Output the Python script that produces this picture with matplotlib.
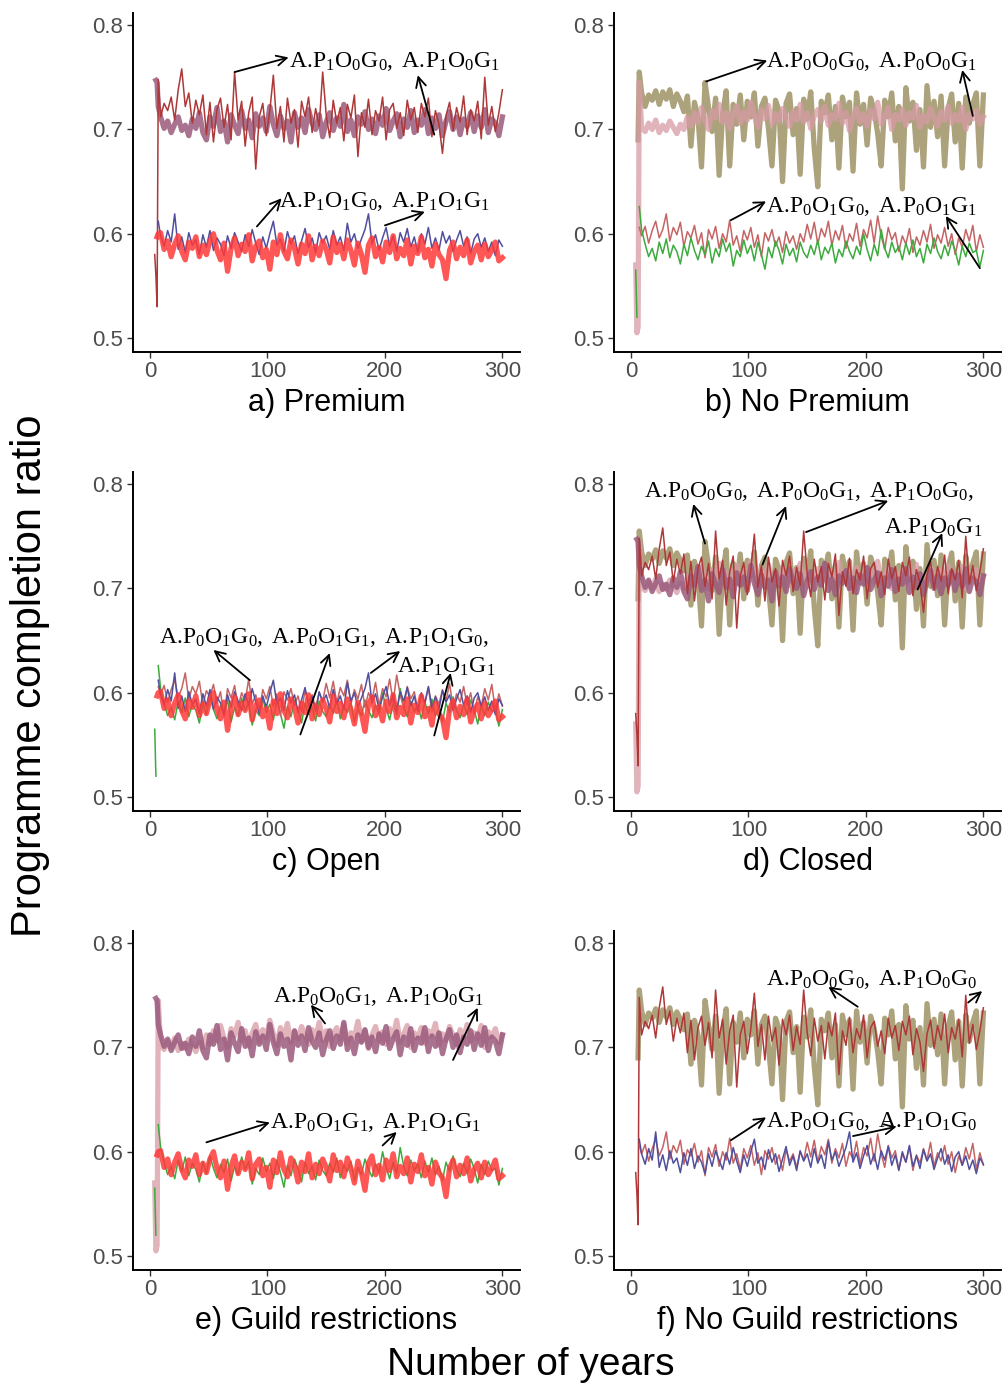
import numpy as np
import matplotlib
matplotlib.use('Agg')
import matplotlib.pyplot as plt

plt.rcParams['font.family'] = ['Liberation Sans', 'DejaVu Sans']
plt.rcParams['mathtext.fontset'] = 'custom'
plt.rcParams['mathtext.rm'] = 'Liberation Serif'
plt.rcParams['mathtext.it'] = 'Liberation Serif:italic'

nan = np.nan

# x grid (years), values in thousandths
years = [4, 5, 6, 7] + list(range(9, 301, 3))

p1o0g0 = [580, 560, 530, 748,
          712, 725, 718, 731, 709, 738, 758, 722, 735, 706,
          728, 714, 733, 695, 726, 688, 719, 730, 702, 724,
          690, 755, 709, 727, 684, 716, 731, 662, 712, 725,
          694, 718, 752, 701, 722, 688, 730, 706, 719, 683,
          727, 712, 731, 697, 720, 703, 755, 714, 692, 728,
          706, 721, 689, 724, 711, 733, 674, 716, 702, 729,
          695, 718, 708, 731, 690, 719, 725, 701, 716, 694,
          728, 709, 721, 697, 725, 712, 730, 693, 718, 705,
          677, 713, 726, 699, 721, 707, 732, 695, 719, 708,
          727, 691, 750, 704, 722, 698, 716, 738]

p1o0g1 = [nan, 747, 745, 722,
          712, 701, 708, 697, 705, 712, 699, 704, 694, 710,
          701, 716, 697, 690, 712, 703, 721, 698, 708, 688,
          714, 704, 696, 718, 701, 709, 692, 715, 703, 711,
          698, 722, 705, 694, 713, 701, 708, 688, 716, 702,
          711, 697, 719, 706, 700, 714, 693, 707, 716, 699,
          711, 703, 724, 698, 709, 694, 712, 705, 717, 700,
          710, 696, 713, 704, 720, 699, 708, 715, 693, 710,
          702, 718, 697, 709, 704, 719, 696, 711, 701, 714,
          694, 708, 717, 700, 712, 695, 710, 703, 716, 698,
          713, 702, 719, 697, 710, 706, 694, 712]

p1o1g0 = [nan, nan, nan, 612,
          598, 588, 603, 592, 619, 585, 597, 582, 601, 589,
          594, 580, 599, 587, 603, 584, 596, 590, 579, 598,
          586, 601, 592, 583, 599, 588, 604, 591, 580, 597,
          586, 600, 612, 589, 595, 583, 602, 590, 598, 581,
          593, 605, 587, 596, 582, 601, 591, 598, 585, 603,
          589, 597, 584, 610, 592, 600, 586, 595, 604, 619,
          590, 599, 584, 596, 606, 588, 598, 583, 601, 592,
          605, 587, 597, 582, 600, 590, 606, 586, 596, 584,
          602, 591, 598, 583, 594, 603, 588, 597, 581, 595,
          600, 587, 596, 583, 592, 579, 594, 588]

p1o1g1 = [nan, nan, 597, 600,
          601, 585, 593, 578, 590, 598, 583, 575, 592, 586,
          597, 578, 589, 580, 593, 600, 584, 575, 591, 564,
          586, 596, 579, 590, 583, 599, 574, 588, 593, 577,
          585, 566, 592, 580, 599, 583, 576, 594, 586, 571,
          590, 581, 598, 575, 588, 579, 593, 585, 572, 597,
          582, 590, 576, 594, 584, 570, 591, 580, 563, 589,
          596, 578, 587, 573, 592, 582, 598, 576, 586, 579,
          594, 571, 588, 581, 597, 577, 585, 569, 590, 580,
          575, 557, 584, 592, 576, 587, 579, 594, 572, 583,
          589, 575, 590, 578, 584, 592, 574, 577]

p0o0g0 = [nan, nan, 690, 755,
          735, 722, 733, 728, 737, 724, 736, 729, 738, 722,
          734, 727, 717, 732, 684, 726, 712, 664, 745, 721,
          698, 730, 656, 715, 737, 665, 724, 705, 733, 690,
          727, 712, 735, 684, 722, 730, 701, 665, 728, 718,
          650, 725, 734, 695, 720, 657, 729, 710, 736, 682,
          645, 727, 716, 733, 690, 722, 663, 731, 712, 726,
          660, 735, 705, 724, 685, 730, 718, 696, 665, 728,
          712, 735, 689, 722, 643, 740, 708, 726, 680, 719,
          664, 742, 702, 727, 693, 732, 665, 720, 734, 688,
          725, 663, 731, 706, 724, 735, 665, 733]

p0o0g1 = [570, 505, 510, 745,
          702, 698, 706, 700, 709, 697, 704, 699, 708, 702,
          696, 705, 700, 712, 703, 716, 706, 721, 709, 700,
          718, 711, 724, 707, 716, 701, 714, 722, 706, 717,
          709, 726, 713, 702, 719, 710, 723, 705, 715, 708,
          720, 712, 703, 717, 709, 724, 707, 716, 701, 713,
          719, 708, 722, 704, 714, 710, 725, 706, 716, 699,
          712, 720, 707, 715, 703, 718, 710, 726, 705, 713,
          721, 700, 714, 709, 719, 704, 716, 711, 723, 702,
          713, 707, 720, 711, 703, 717, 709, 722, 706, 714,
          708, 721, 700, 715, 710, 718, 705, 712]

p0o1g0 = [nan, nan, nan, 606,
          598, 607, 591, 603, 612, 596, 604, 619, 593, 606,
          599, 611, 588, 602, 596, 608, 590, 601, 577, 604,
          595, 607, 586, 600, 592, 613, 589, 598, 583, 603,
          594, 606, 587, 599, 578, 601, 593, 604, 588, 597,
          582, 602, 591, 598, 585, 600, 592, 609, 595, 611,
          590, 605, 597, 612, 589, 603, 594, 608, 586, 600,
          593, 610, 588, 604, 596, 613, 591, 617, 598, 585,
          606, 594, 601, 583, 598, 590, 605, 582, 597, 589,
          603, 592, 609, 586, 599, 591, 606, 588, 600, 580,
          596, 587, 604, 593, 608, 583, 599, 587]

p0o1g1 = [565, 520, nan, 626,
          604, 590, 578, 586, 574, 592, 581, 595, 577, 589,
          583, 571, 590, 579, 596, 584, 575, 588, 580, 593,
          572, 586, 578, 595, 583, 591, 569, 584, 578, 594,
          581, 589, 574, 592, 580, 566, 587, 577, 593, 584,
          571, 590, 579, 586, 573, 592, 582, 577, 589, 580,
          594, 575, 587, 581, 591, 572, 585, 578, 593, 583,
          576, 588, 580, 600, 585, 574, 590, 579, 604, 586,
          577, 592, 582, 588, 575, 591, 580, 594, 578, 586,
          572, 590, 581, 596, 583, 576, 589, 579, 593, 584,
          570, 588, 578, 591, 582, 584, 568, 584]

# colour, line width, alpha
styles = {
    'p0o0g0': ('#A89E76', 3.8, 0.95),
    'p0o0g1': ('#D79AA4', 3.8, 0.75),
    'p1o0g1': ('#9A5A7C', 3.8, 0.85),
    'p1o0g0': ('#AE3838', 1.1, 1.0),
    'p0o1g1': ('#3DAA3D', 1.1, 1.0),
    'p0o1g0': ('#C46464', 1.1, 1.0),
    'p1o1g0': ('#4F4F9E', 1.1, 1.0),
    'p1o1g1': ('#FF3838', 3.8, 0.85),
}
series = {'p1o0g0': p1o0g0, 'p1o0g1': p1o0g1, 'p1o1g0': p1o1g0, 'p1o1g1': p1o1g1,
          'p0o0g0': p0o0g0, 'p0o0g1': p0o0g1, 'p0o1g0': p0o1g0, 'p0o1g1': p0o1g1}


def lab(*names, tail=''):
    parts = [r'A.\!P_%sO_%sG_%s' % (n[1], n[3], n[5]) for n in names]
    return r'$\mathrm{' + r',\ '.join(parts) + tail + '}$'


# panel: title, series order, texts (x, y, string), arrows (tail, head)
panels = [
    ('a) Premium', ['p1o0g1', 'p1o0g0', 'p1o1g0', 'p1o1g1'],
     [(118, 0.765, lab('p1o0g0', 'p1o0g1')), (110, 0.631, lab('p1o1g0', 'p1o1g1'))],
     [((72, 0.755), (118, 0.769)), ((242, 0.695), (228, 0.752)),
      ((91, 0.607), (112, 0.634)), ((200, 0.608), (234, 0.621))]),
    ('b) No Premium', ['p0o0g0', 'p0o0g1', 'p0o1g0', 'p0o1g1'],
     [(115, 0.765, lab('p0o0g0', 'p0o0g1')), (115, 0.626, lab('p0o1g0', 'p0o1g1'))],
     [((64, 0.746), (116, 0.766)), ((291, 0.713), (282, 0.757)),
      ((85, 0.613), (115, 0.631)), ((297, 0.567), (268, 0.617))]),
    ('c) Open', ['p0o1g1', 'p0o1g0', 'p1o1g0', 'p1o1g1'],
     [(8, 0.653, lab('p0o1g0', 'p0o1g1', 'p1o1g0', tail=',')), (210, 0.625, lab('p1o1g1'))],
     [((85, 0.612), (54, 0.641)), ((128, 0.560), (153, 0.638)),
      ((188, 0.619), (213, 0.640)), ((242, 0.559), (256, 0.619))]),
    ('d) Closed', ['p0o0g0', 'p0o0g1', 'p1o0g1', 'p1o0g0'],
     [(11, 0.793, lab('p0o0g0', 'p0o0g1', 'p1o0g0', tail=',')), (215, 0.758, lab('p1o0g1'))],
     [((63, 0.743), (53, 0.781)), ((112, 0.723), (132, 0.779)),
      ((149, 0.754), (219, 0.784)), ((244, 0.699), (265, 0.753))]),
    ('e) Guild restrictions', ['p0o0g1', 'p1o0g1', 'p0o1g1', 'p1o1g1'],
     [(105, 0.749, lab('p0o0g1', 'p1o0g1')), (102, 0.628, lab('p0o1g1', 'p1o1g1'))],
     [((149, 0.723), (137, 0.741)), ((258, 0.688), (279, 0.738)),
      ((48, 0.609), (102, 0.628)), ((198, 0.606), (210, 0.619))]),
    ('f) No Guild restrictions', ['p0o0g0', 'p1o0g0', 'p0o1g0', 'p1o1g0'],
     [(115, 0.765, lab('p0o0g0', 'p1o0g0')), (115, 0.629, lab('p0o1g0', 'p1o1g0'))],
     [((193, 0.739), (168, 0.758)), ((287, 0.743), (299, 0.754)),
      ((85, 0.611), (115, 0.633)), ((189, 0.615), (226, 0.624))]),
]

fig = plt.figure(figsize=(10.05, 13.85), dpi=100)
W, H = 1005, 1385
lefts = [133, 614]
bottoms = [351.6, 810.6, 1269.6]
aw, ah = 387, 339

x = np.array(years)
for i, (title, order, texts, arrows) in enumerate(panels):
    r, c = divmod(i, 2)
    ax = fig.add_axes([lefts[c] / W, 1 - bottoms[r] / H, aw / W, ah / H])
    for name in order:
        col, lw, a = styles[name]
        y = np.array(series[name], dtype=float) / 1000
        ax.plot(x, y, color=col, lw=lw, alpha=a)
    for tx, ty, s in texts:
        ax.text(tx, ty, s, fontsize=17, va='center', ha='left', color='black')
    for tail, head in arrows:
        ax.annotate('', xy=head, xytext=tail,
                    arrowprops=dict(arrowstyle='->', color='black', lw=1.3,
                                    mutation_scale=18, shrinkA=0, shrinkB=0))
    ax.set_xlim(-14.5, 315)
    ax.set_ylim(0.487, 0.812)
    ax.set_xticks([0, 100, 200, 300])
    ax.set_yticks([0.5, 0.6, 0.7, 0.8])
    ax.set_yticklabels(['0.5', '0.6', '0.7', '0.8'])
    for s in ['top', 'right']:
        ax.spines[s].set_visible(False)
    for s in ['left', 'bottom']:
        ax.spines[s].set_linewidth(1.4)
    ax.tick_params(labelsize=16, labelcolor='#4D4D4D', color='#333333',
                   length=4, width=1.0, pad=3)
    ax.set_xlabel(title, fontsize=22, labelpad=4)

fig.text(30 / W, 1 - 676 / H, 'Programme completion ratio', rotation=90,
         fontsize=30, ha='center', va='center')
fig.text(531 / W, 1 - 1365 / H, 'Number of years', fontsize=28,
         ha='center', va='center')

fig.savefig('out.png', dpi=100)
